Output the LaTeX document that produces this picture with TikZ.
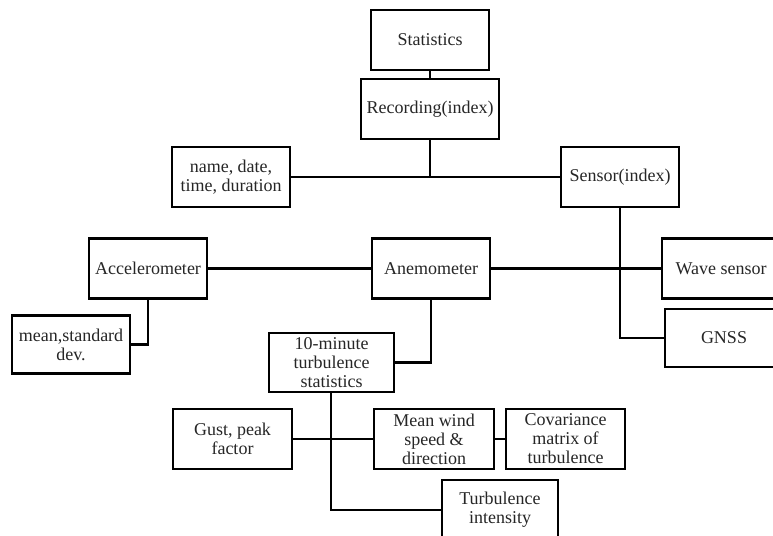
\documentclass[tikz,border=0pt]{standalone}
\usepackage{fontspec}
\setmainfont{Liberation Serif}
\begin{document}
\begin{tikzpicture}[x=1pt,y=1pt,
  box/.style={draw=black, line width=2.8pt, fill=white, align=center, inner sep=0pt,
    minimum width=118pt, minimum height=60pt, font=\fontsize{18}{19}\selectfont, text=black!85},
  conn/.style={draw=black, line width=2.8pt}]
\useasboundingbox (0,0) rectangle (773,-535);
\clip (0,0) rectangle (773,-535);
\node[box] (stat) at (430,-40) {Statistics};
\node[box, minimum width=138pt] (rec) at (430,-109) {Recording(index)};
\node[box] (name) at (231,-177) {name, date,\\time, duration};
\node[box] (sensor) at (620,-177) {Sensor(index)};
\node[box] (acc) at (148,-268.5) {Accelerometer};
\node[box] (anem) at (431,-268.5) {Anemometer};
\node[box] (wave) at (721,-268.5) {Wave sensor};
\node[box, minimum height=58pt] (gnss) at (724,-338) {GNSS};
\node[box, minimum height=58pt] (macc) at (71,-344.5) {mean,standard\\dev.};
\node[box, minimum width=125pt, minimum height=59pt] (tenmin) at (331.5,-362.5) {10-minute\\turbulence\\statistics};
\node[box, minimum width=119pt] (gust) at (232.5,-439) {Gust, peak\\factor};
\node[box, minimum width=120pt] (mwind) at (434,-439) {Mean wind\\speed \&\\direction};
\node[box, minimum width=119pt] (cov) at (565.5,-439) {Covariance\\matrix of\\turbulence};
\node[box, minimum width=116pt] (ti) at (500,-510) {Turbulence\\intensity};
\draw[conn] (stat.south) -- (rec.north);
\draw[conn] (rec.south) |- (name.east);
\draw[conn] (name.east) -- (sensor.west);
\draw[conn] (sensor.south) |- (gnss.west);
\draw[conn] (acc.east) -- (anem.west);
\draw[conn] (anem.east) -- (wave.west);
\draw[conn] (acc.south) |- (macc.east);
\draw[conn] (anem.south) |- (tenmin.east);
\draw[conn] ([xshift=-0.5pt]tenmin.south) |- (ti.west);
\draw[conn] (gust.east) -- (mwind.west);
\draw[conn] (mwind.east) -- (cov.west);
\end{tikzpicture}
\end{document}
